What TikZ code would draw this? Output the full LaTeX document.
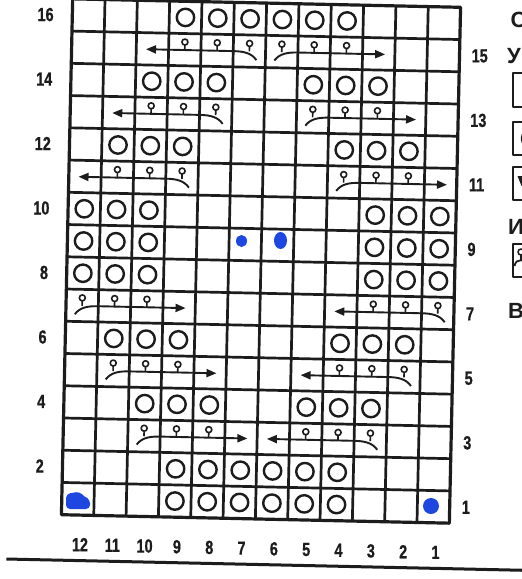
\documentclass[tikz,border=0pt]{standalone}
\usepackage{fontspec}
\setmainfont{Liberation Sans}
\newfontfamily\labfont{Liberation Sans}[FakeStretch=0.76,FakeBold=0.6]
\usetikzlibrary{arrows.meta}
\definecolor{ink}{RGB}{28,28,28}
\definecolor{inkblue}{RGB}{30,70,225}
\newcommand{\bigO}[2]{\draw[bigo] ({67+(#1-0.5)*32.333},{3+(16.5-#2)*32.25}) circle (8.7);}
\newcommand{\cableR}[3]{%
  \pgfmathsetmacro{\cbY}{3+(16-#1)*32.25}%
  \pgfmathsetmacro{\cbA}{67+(#2-1)*32.333}%
  \pgfmathsetmacro{\cbB}{67+#3*32.333}%
  \foreach \cc in {#2,...,#3}{%
    \pgfmathsetmacro{\cbX}{67+(\cc-0.5)*32.333}%
    \draw[smallo] (\cbX,\cbY+8.5) circle (3);%
    \draw[smallo] (\cbX,\cbY+11.5) -- (\cbX,\cbY+16.5);%
  }%
  \draw[cableline] (\cbA+9,\cbY+25) .. controls (\cbA+14,\cbY+18) and (\cbA+22,\cbY+16.5) .. (\cbA+32,\cbY+16.5) -- (\cbB+22.6,\cbY+16.5);%
}
\newcommand{\cableL}[3]{%
  \pgfmathsetmacro{\cbY}{3+(16-#1)*32.25}%
  \pgfmathsetmacro{\cbA}{67+(#2-1)*32.333}%
  \pgfmathsetmacro{\cbB}{67+#3*32.333}%
  \foreach \cc in {#2,...,#3}{%
    \pgfmathsetmacro{\cbX}{67+(\cc-0.5)*32.333}%
    \draw[smallo] (\cbX,\cbY+8.5) circle (3);%
    \draw[smallo] (\cbX,\cbY+11.5) -- (\cbX,\cbY+16.5);%
  }%
  \draw[cableline] (\cbB-9,\cbY+25) .. controls (\cbB-14,\cbY+18) and (\cbB-22,\cbY+16.5) .. (\cbB-32,\cbY+16.5) -- (\cbA-22.6,\cbY+16.5);%
}
\begin{document}
\begin{tikzpicture}[x=1pt,y=-1pt,line join=round,
  gridline/.style={draw=ink,line width=2.7pt},
  border/.style={draw=ink,line width=3.2pt},
  bigo/.style={draw=ink,line width=2.4pt},
  smallo/.style={draw=ink,line width=1.6pt},
  cableline/.style={draw=ink,line width=1.9pt,-{Triangle[length=10pt,width=8pt]}},
  rowlab/.style={font=\labfont\bfseries\fontsize{19}{19}\selectfont,text=ink,inner sep=0pt},
  leglab/.style={font=\bfseries\fontsize{22}{22}\selectfont,text=ink,inner sep=0pt,anchor=west},
  legbox/.style={draw=ink,line width=2.8pt},
  dot/.style={fill=inkblue}]
\useasboundingbox (0,0) rectangle (522,579);
\fill[white] (0,0) rectangle (522,579);
\begin{scope}
\clip (0,0) rectangle (522,579);
\begin{scope}[rotate around={-1.25:(261,261)}]
  % grid
  \foreach \i in {1,...,11} \draw[gridline] ({67+\i*32.333},3) -- ({67+\i*32.333},519);
  \foreach \j in {1,...,15} \draw[gridline] (67,{3+\j*32.25}) -- (455,{3+\j*32.25});
  \draw[border] (67,3) rectangle (455,519);
  % big circles
  \foreach \c in {4,...,9} {\bigO{\c}{16} \bigO{\c}{2} \bigO{\c}{1}}
  \foreach \c in {3,4,5,8,9,10} {\bigO{\c}{14} \bigO{\c}{4}}
  \foreach \c in {2,3,4,9,10,11} {\bigO{\c}{12} \bigO{\c}{6}}
  \foreach \c in {1,2,3,10,11,12} {\bigO{\c}{10} \bigO{\c}{9} \bigO{\c}{8}}
  % cables
  \cableL{15}{4}{6} \cableR{15}{7}{9}
  \cableL{13}{3}{5} \cableR{13}{8}{10}
  \cableL{11}{2}{4} \cableR{11}{9}{11}
  \cableR{7}{1}{3} \cableL{7}{10}{12}
  \cableR{5}{2}{4} \cableL{5}{9}{11}
  \cableR{3}{3}{5} \cableL{3}{8}{10}
  % labels
  \foreach \r in {16,14,...,2} \node[rowlab,anchor=east] (rl\r) at (48.5,{3+(16.5-\r)*32.25}) {\r};
  \foreach \r in {15,13,...,1} \node[rowlab,anchor=west] (rr\r) at (467,{3+(16.5-\r)*32.25}) {\r};
  \foreach \c in {1,...,12} {\pgfmathtruncatemacro{\lab}{13-\c}
    \node[rowlab] (cl\c) at ({67+(\c-0.5)*32.333+3},548.5) {\lab};}
  % bottom rule
  \draw[ink,line width=3pt] (13,564.5) -- (545,564.5);
\end{scope}
% blue marks
\fill[dot] (241.5,241) ellipse (5.5 and 6);
\fill[dot] (280.5,240.5) ellipse (6.5 and 8.5);
\fill[dot] (431,506) circle (8);
\fill[dot,rounded corners=4pt] (66,509) -- (66,494) -- (80,491.5) -- (84,497) -- (90,499) -- (90,509) -- cycle;
% legend (cut off at the right edge, as in the reference)
\node[leglab] (legC) at (510.5,20) {С};
\node[leglab] (legU) at (507,56) {У};
\draw[legbox] (513,73) rectangle (545,107);
\draw[legbox] (513,122) rectangle (545,155);
\draw[bigo] (530.5,138.5) circle (8.5);
\draw[legbox] (513,167) rectangle (545,200);
\fill[ink] (517.5,176) -- (527,176) -- (521.5,186) -- cycle;
\node[leglab] (legI) at (508,227) {И};
\draw[legbox] (513,244) rectangle (545,277);
\draw[smallo] (521,252) circle (3);
\draw[smallo] (521,255) -- (521,259.5);
\draw[ink,line width=1.8pt] (514.5,266) .. controls (516,261) .. (524,260);
\node[leglab] (legV) at (508,311) {В};
\end{scope}
\end{tikzpicture}
\end{document}
